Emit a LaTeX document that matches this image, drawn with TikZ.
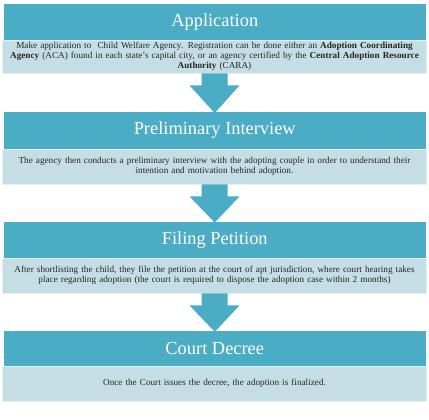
\documentclass[tikz,border=0pt]{standalone}
\usepackage{fontspec}
\setmainfont{Liberation Serif}
\usetikzlibrary{calc}
\definecolor{headblue}{HTML}{4BACC6}
\definecolor{bodyfill}{HTML}{C5DEE6}
\definecolor{bodyline}{HTML}{E2EFF3}
\definecolor{bodytext}{HTML}{262626}
\tikzset{
  headbox/.style={fill=headblue, draw=none, minimum width=421.5pt, minimum height=36.5pt,
    inner sep=0pt, text=white, font=\fontsize{18.4}{20}\selectfont},
  bodybox/.style={fill=bodyfill, draw=bodyline, line width=0.8pt, minimum width=424pt,
    inner sep=0pt, text width=422pt, align=center, text=bodytext,
    font=\fontsize{9.2}{10}\selectfont},
  blockarrow/.style={fill=headblue, draw=none}
}
\begin{document}
\begin{tikzpicture}[x=1pt,y=-1pt]
\useasboundingbox (0,0) rectangle (429,420);
\fill[white] (0,0) rectangle (429,420);

\node[headbox] (h1) at (214.75,22) {Application};
\node[bodybox, minimum height=32.5pt] (b1) at (214.5,56.75) {Make application to\ \ Child Welfare Agency. Registration can be done either an \textbf{Adoption Coordinating}\\ \textbf{Agency} (ACA) found in each state's capital city, or an agency certified by the \textbf{Central Adoption Resource}\\ \textbf{Authority} (CARA)};

\node[headbox] (h2) at (214.75,130.5) {Preliminary Interview};
\node[bodybox, minimum height=35pt] (b2) at (214.5,166.5) {The agency then conducts a preliminary interview with the adopting couple in order to understand their\\ intention and motivation behind adoption.};

\node[headbox] (h3) at (214.75,240) {Filing Petition};
\node[bodybox, minimum height=35pt] (b3) at (214.5,275.5) {After shortlisting the child, they file the petition at the court of apt jurisdiction, where court hearing takes\\ place regarding adoption (the court is required to dispose the adoption case within 2 months)};

\node[headbox, minimum height=35pt] (h4) at (214.75,348.5) {Court Decree};
\node[bodybox, minimum height=35pt] (b4) at (214.5,383.5) {Once the Court issues the decree, the adoption is finalized.};

\foreach \a/\b in {b1/h2, b2/h3, b3/h4}{
  \fill[blockarrow] ($(\a.south)+(-13,0)$) -- ($(\a.south)+(13,0)$) -- ($(\a.south)+(13,12)$)
    -- ($(\a.south)+(25,12)$) -- ($(\b.north)+(0,1)$) -- ($(\a.south)+(-25,12)$)
    -- ($(\a.south)+(-13,12)$) -- cycle;
}
\end{tikzpicture}
\end{document}
